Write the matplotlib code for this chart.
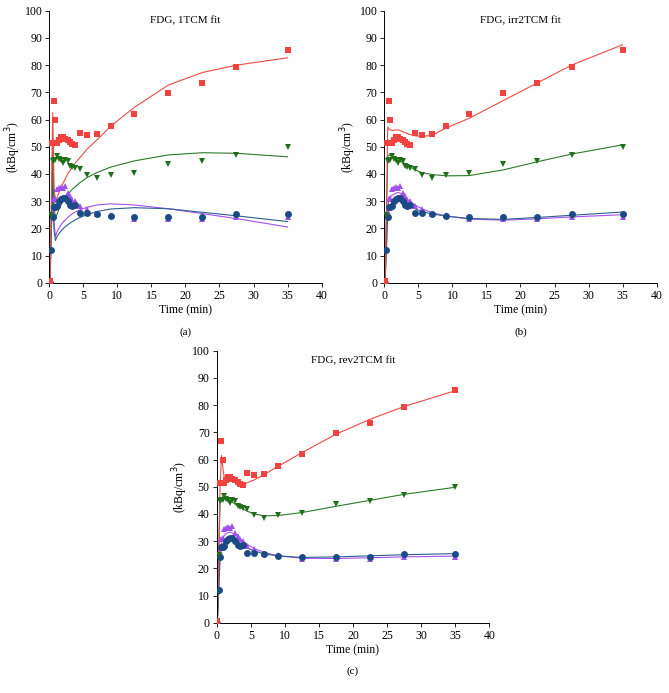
import numpy as np
import matplotlib.pyplot as plt

plt.rcParams["font.family"] = ["Liberation Serif", "DejaVu Serif"]

# frame mid-times (min)
t = [0.1, 0.3, 0.5, 0.7, 0.9, 1.1, 1.4, 1.7, 2.0, 2.3, 2.7, 3.1, 3.4, 3.8,
     4.5, 5.5, 7, 9, 12.5, 17.5, 22.5, 27.5, 35]

# measured TACs (kBq/cm^3)
red_data = [0.8, 51.5, 51.5, 66.7, 59.7, 51.2, 52.5, 53.4, 53.5, 52.7, 52.3, 51.8, 51.0, 50.5,
            55.0, 54.3, 54.6, 57.7, 62.2, 69.7, 73.3, 79.2, 85.6]
green_data = [0.0, 25.0, 44.8, 45.2, 45.0, 46.6, 45.5, 45.0, 44.0, 45.3, 44.6, 42.8, 42.5, 42.3,
              41.8, 39.5, 38.6, 39.7, 40.5, 43.8, 44.9, 46.8, 50.0]
purple_data = [0.0, 12.0, 26.0, 30.8, 31.0, 34.3, 34.8, 35.3, 34.7, 35.5, 33.0, 32.0, 30.6, 30.0,
               28.2, 27.0, 25.3, 24.8, 23.6, 23.5, 23.6, 24.0, 24.2]
blue_data = [0.0, 12.2, 24.0, 28.0, 28.0, 28.2, 30.0, 30.7, 31.0, 31.3, 29.9, 28.5, 28.3, 28.4,
             25.6, 25.8, 25.2, 24.7, 24.1, 24.3, 24.2, 25.1, 25.4]

# model fits
fit_1tcm = {
    "red": [0, 30, 62.5, 35, 29.5, 31, 33, 35, 36.5, 38, 40, 41.5, 42.5, 44,
            46, 49, 52.5, 57.5, 64.5, 72.7, 77.3, 80.0, 82.7],
    "green": [0, 25, 50, 28, 23.5, 25, 27, 28.5, 30, 31.2, 32.5, 33.6, 34.4, 35.3,
              36.8, 38.6, 40.5, 42.5, 44.8, 47.0, 47.8, 47.6, 46.3],
    "purple": [0, 20, 42, 22, 17, 18.5, 20, 21.2, 22.2, 23, 24, 24.8, 25.4, 26,
               26.8, 27.7, 28.6, 29.0, 28.6, 27.2, 25.4, 23.6, 20.5],
    "blue": [0, 18, 38, 19, 15.5, 16.8, 18, 19, 19.8, 20.5, 21.3, 22, 22.5, 23.1,
             24, 25, 26.2, 27.1, 27.6, 27.2, 25.9, 24.6, 22.5],
}
fit_irr2tcm = {
    "red": [0, 25, 57.3, 56.5, 56.2, 56.0, 56.0, 56.2, 56.2, 56.0, 55.5, 55.2, 54.8, 54.5,
            54.0, 53.8, 54.2, 56.8, 60.5, 67.0, 73.5, 80.0, 87.5],
    "green": [0, 25, 46.5, 47.0, 46.8, 46.5, 45.5, 45.2, 45.0, 44.6, 44.3, 43.6, 43.2, 42.6,
              41.5, 40.5, 39.8, 39.3, 39.4, 41.5, 44.5, 47.3, 50.7],
    "purple": [0, 12, 28, 31, 31.6, 32.1, 32.5, 32.9, 33.2, 33.0, 32.4, 31.5, 30.7, 29.8,
               28.6, 27.2, 25.8, 24.6, 23.4, 23.0, 23.5, 24.2, 25.0],
    "blue": [0, 12, 26, 28, 28.8, 29.5, 29.9, 30.2, 30.5, 30.3, 29.8, 29.2, 28.7, 28.1,
             27.2, 26.2, 25.3, 24.5, 23.6, 23.3, 24.0, 24.8, 26.0],
}
fit_rev2tcm = {
    "red": [0, 25, 50, 61.5, 57, 53.5, 52.8, 53, 53, 52.7, 52.2, 51.6, 51.2, 50.8,
            51.5, 52.5, 54.5, 57.5, 62.5, 69.3, 74.8, 79.5, 85.3],
    "green": [0, 25, 45, 46, 46.3, 46.2, 45.8, 45.3, 44.8, 44.3, 43.6, 43, 42.5, 41.9,
              41, 40, 39.3, 39.4, 40.5, 42.8, 45, 47.2, 49.8],
    "purple": [0, 12, 26, 30, 31, 32, 32.8, 33.2, 33.3, 33, 32.4, 31.6, 30.9, 30,
               28.8, 27.3, 25.8, 24.6, 23.7, 23.6, 23.9, 24.2, 24.5],
    "blue": [0, 12, 24, 28, 29, 29.8, 30.3, 30.6, 30.7, 30.5, 30, 29.4, 28.9, 28.3,
             27.4, 26.4, 25.3, 24.6, 24.0, 24.2, 24.6, 25.0, 25.4],
}

titles = ["FDG, 1TCM fit", "FDG, irr2TCM fit", "FDG, rev2TCM fit"]
letters = ["(a)", "(b)", "(c)"]
fits = [fit_1tcm, fit_irr2tcm, fit_rev2tcm]

colors = {"red": "#f2423f", "green": "#1f6e1a", "purple": "#a24ff0", "blue": "#1c4a86"}
line_colors = {"red": "#ee4a45", "green": "#2d7a2a", "purple": "#a552ee", "blue": "#2e5f8c"}
markers = {"red": "s", "green": "v", "purple": "^", "blue": "o"}
data = {"red": red_data, "green": green_data, "purple": purple_data, "blue": blue_data}

fig = plt.figure(figsize=(6.69, 6.93), dpi=100)
positions = [[0.0737, 0.592, 0.407, 0.3925],
             [0.5745, 0.592, 0.407, 0.3925],
             [0.3239, 0.1014, 0.4075, 0.3925]]

for i in range(3):
    ax = fig.add_axes(positions[i])
    for key in ["purple", "blue", "green", "red"]:
        ax.plot(t, fits[i][key], color=line_colors[key], lw=0.8, zorder=2)
    for key in ["purple", "blue", "green", "red"]:
        ax.plot(t, data[key], linestyle="none", marker=markers[key], color=colors[key],
                markersize=5, markeredgewidth=0, zorder=3)
    ax.set_xlim(0, 40)
    ax.set_ylim(0, 100)
    ax.set_xticks(range(0, 41, 5))
    ax.set_yticks(range(0, 101, 10))
    ax.spines["top"].set_visible(False)
    ax.spines["right"].set_visible(False)
    ax.tick_params(labelsize=8.5, length=3, width=0.6, pad=2)
    for s in ["left", "bottom"]:
        ax.spines[s].set_linewidth(0.7)
    ax.set_xlabel("Time (min)", fontsize=8.5, labelpad=2)
    ax.set_ylabel("(kBq/cm$^3$)", fontsize=8.5, labelpad=1)
    ax.text(20, 96.5, titles[i], ha="center", va="center", fontsize=8)
    ax.text(0.5, -0.18, letters[i], transform=ax.transAxes, ha="center", va="center", fontsize=8)

plt.savefig("out.png", dpi=100)
